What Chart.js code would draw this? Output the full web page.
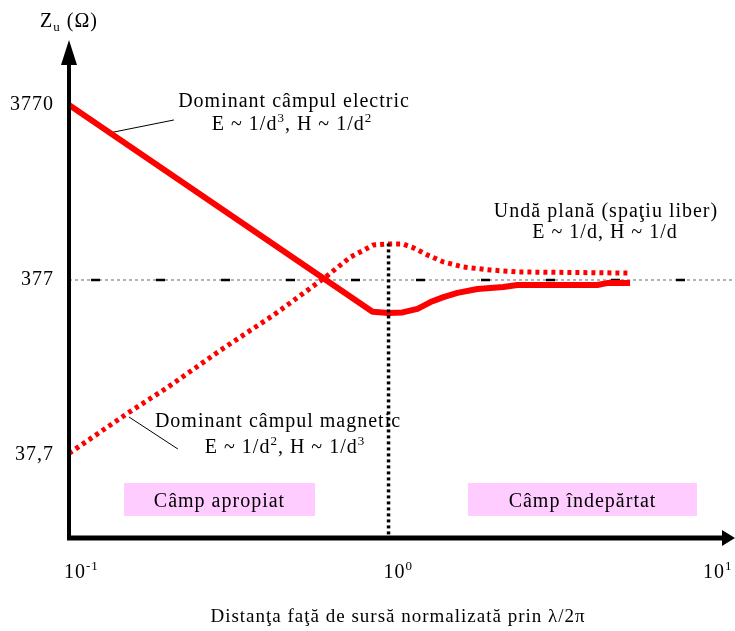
<!DOCTYPE html>
<html>
<head>
<meta charset="utf-8">
<script src="https://cdn.jsdelivr.net/npm/chart.js@4/dist/chart.umd.min.js"></script>
<style>
  html, body { margin: 0; padding: 0; background: #fff; }
  #wrap { width: 735px; height: 631px; }
</style>
</head>
<body>
<div id="wrap"><canvas id="c" width="735" height="631"></canvas></div>
<script>
// Wave impedance vs. normalized distance (d / (lambda/2pi)), log-log
const electricX = [0.1, 0.891, 1.0, 1.106, 1.232, 1.353, 1.485, 1.643, 1.897, 2.287, 2.53, 4.5, 4.83, 5.7];
const electricY = [3770, 248, 244, 246, 258, 282, 301, 318, 335, 344, 353, 353, 362, 362];

const magneticX = [0.1, 0.1529, 0.2039, 0.2985, 0.4372, 0.6354, 0.7606, 0.8977, 1.0, 1.106, 1.197, 1.324, 1.485, 1.716, 2.084, 2.53, 5.7];
const magneticY = [38.5, 65.5, 92, 150, 238, 392, 510, 598, 606, 606, 575, 524, 478, 447, 430, 419, 413];

const freeSpaceZ = 377;          // plane wave impedance
const boundaryX = 1;             // d = lambda/2pi
const boundaryTop = 610;

const xTicks = [0.1, 1, 10];
const xTickExp = ['-1', '0', '1'];
const yTicks = [3770, 377, 37.7];
const yTickLabels = ['3770', '377', '37,7'];

const X_MIN = 0.1, X_MAX = 12.14;
const Y_MIN = 12.65, Y_MAX = 8864;

// leader lines from the curves to their captions
const electricLeaderX = [0.1334, 0.213];
const electricLeaderY = [2608, 3095];
const magneticLeaderX = [0.154, 0.2191];
const magneticLeaderY = [62.2, 40.8];

const pts = (xs, ys) => xs.map((x, i) => ({ x, y: ys[i] }));

const FONT = '"Liberation Serif", "Times New Roman", serif';
const RED = '#ff0000';

function setFont(ctx, size) {
  ctx.font = size + 'px ' + FONT;
}

// draws text made of runs: [text, 'sup' | 'sub' | undefined]
function drawRich(ctx, runs, x, y, size, align) {
  const small = Math.round(size * 0.65);
  let total = 0;
  const widths = runs.map(([t, kind]) => {
    setFont(ctx, kind ? small : size);
    const w = ctx.measureText(t).width;
    total += w;
    return w;
  });
  let cx = align === 'left' ? x : align === 'right' ? x - total : x - total / 2;
  ctx.textAlign = 'left';
  ctx.textBaseline = 'alphabetic';
  runs.forEach(([t, kind], i) => {
    setFont(ctx, kind ? small : size);
    let dy = 0;
    if (kind === 'sup') dy = -size * 0.42;
    if (kind === 'sub') dy = size * 0.2;
    ctx.fillText(t, cx, y + dy);
    cx += widths[i];
  });
}

const decorations = {
  id: 'decorations',
  beforeDatasetsDraw(chart) {
    const ctx = chart.ctx;
    ctx.save();
    // region boxes
    ctx.fillStyle = '#ffccff';
    ctx.fillRect(124, 483, 191, 33);
    ctx.fillRect(468, 483, 229, 33);
    ctx.restore();
  },
  afterDatasetsDraw(chart) {
    const ctx = chart.ctx;
    const area = chart.chartArea;
    const xs = chart.scales.x, ys = chart.scales.y;
    ctx.save();
    ctx.fillStyle = '#000';
    ctx.strokeStyle = '#000';

    // vertical axis with arrow
    const ax = area.left;
    ctx.lineWidth = 4;
    ctx.beginPath();
    ctx.moveTo(ax, area.bottom + 2);
    ctx.lineTo(ax, area.top + 22);
    ctx.stroke();
    ctx.beginPath();
    ctx.moveTo(ax, area.top);
    ctx.lineTo(ax - 8, area.top + 25);
    ctx.lineTo(ax + 8, area.top + 25);
    ctx.closePath();
    ctx.fill();

    // horizontal axis with arrow
    const ay = area.bottom;
    ctx.lineWidth = 5;
    ctx.beginPath();
    ctx.moveTo(ax - 2, ay);
    ctx.lineTo(area.right - 12, ay);
    ctx.stroke();
    ctx.beginPath();
    ctx.moveTo(area.right, ay);
    ctx.lineTo(area.right - 13, ay - 8);
    ctx.lineTo(area.right - 13, ay + 8);
    ctx.closePath();
    ctx.fill();

    ctx.letterSpacing = '1px';

    // y tick labels
    setFont(ctx, 20);
    ctx.textAlign = 'right';
    ctx.textBaseline = 'middle';
    yTicks.forEach((v, i) => {
      ctx.fillText(yTickLabels[i], 54, ys.getPixelForValue(v));
    });

    // x tick labels (powers of ten)
    xTicks.forEach((v, i) => {
      drawRich(ctx, [['10'], [xTickExp[i], 'sup']], xs.getPixelForValue(v) - 5, 578, 20, 'left');
    });

    // axis titles
    drawRich(ctx, [['Z'], ['u', 'sub'], [' (\u03A9)']], ax, 27, 20, 'center');
    drawRich(ctx, [['Distan\u0163a fa\u0163\u0103 de surs\u0103 normalizat\u0103 prin \u03BB/2\u03C0']], 398, 622, 19, 'center');

    // curve captions
    drawRich(ctx, [['Dominant c\u00E2mpul electric']], 294, 107, 20, 'center');
    drawRich(ctx, [['E ~ 1/d'], ['3', 'sup'], [', H ~ 1/d'], ['2', 'sup']], 292, 130, 20, 'center');

    drawRich(ctx, [['Und\u0103 plan\u0103 (spa\u0163iu liber)']], 606, 217, 20, 'center');
    drawRich(ctx, [['E ~ 1/d, H ~ 1/d']], 605, 238, 20, 'center');

    drawRich(ctx, [['Dominant c\u00E2mpul magnetic']], 278, 427, 20, 'center');
    drawRich(ctx, [['E ~ 1/d'], ['2', 'sup'], [', H ~ 1/d'], ['3', 'sup']], 285, 453, 20, 'center');

    // region labels
    drawRich(ctx, [['C\u00E2mp apropiat']], 219.5, 507, 20, 'center');
    drawRich(ctx, [['C\u00E2mp \u00EEndep\u0103rtat']], 582.5, 507, 20, 'center');

    ctx.restore();
  }
};

new Chart(document.getElementById('c'), {
  type: 'line',
  data: {
    datasets: [
      {
        data: pts([boundaryX, boundaryX], [boundaryTop, Y_MIN]),
        borderColor: '#000', borderWidth: 3.5, borderDash: [3, 3], order: 0
      },
      {
        data: pts(electricX, electricY),
        borderColor: RED, borderWidth: 6, borderJoinStyle: 'round', order: 1
      },
      {
        data: pts(magneticX, magneticY),
        borderColor: RED, borderWidth: 5, borderDash: [4, 4], order: 2
      },
      {
        data: pts(electricLeaderX, electricLeaderY),
        borderColor: '#000', borderWidth: 1, order: 3
      },
      {
        data: pts(magneticLeaderX, magneticLeaderY),
        borderColor: '#000', borderWidth: 1, order: 3
      },
      {
        data: pts([X_MIN, X_MAX], [freeSpaceZ, freeSpaceZ]),
        borderColor: '#000', borderWidth: 2.5, borderDash: [9, 56], borderDashOffset: 43, order: 4
      },
      {
        data: pts([X_MIN, X_MAX], [freeSpaceZ, freeSpaceZ]),
        borderColor: '#7f7f7f', borderWidth: 1.2, borderDash: [3, 3], order: 5
      }
    ]
  },
  options: {
    responsive: false,
    animation: false,
    devicePixelRatio: 1,
    layout: { padding: { left: 69, top: 40, right: 0, bottom: 93 } },
    elements: { point: { radius: 0, hoverRadius: 0 }, line: { tension: 0 } },
    plugins: { legend: { display: false }, tooltip: { enabled: false } },
    scales: {
      x: { type: 'logarithmic', min: X_MIN, max: X_MAX, display: false },
      y: { type: 'logarithmic', min: Y_MIN, max: Y_MAX, display: false }
    }
  },
  plugins: [decorations]
});
</script>
</body>
</html>
